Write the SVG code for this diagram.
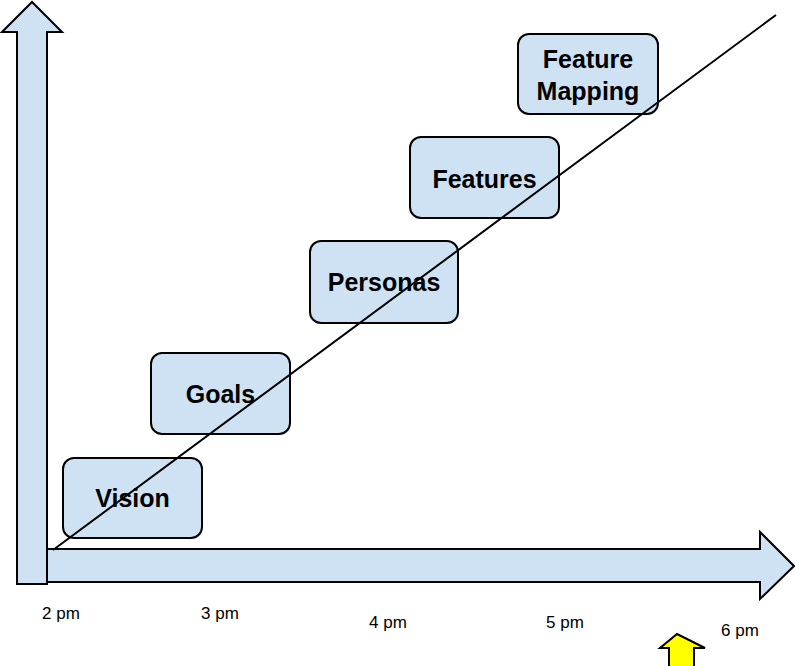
<svg xmlns="http://www.w3.org/2000/svg" width="795" height="666" viewBox="0 0 795 666">
<style>
.a{fill:#cfe2f3;stroke:#000;stroke-width:2;stroke-linejoin:miter}
.b{fill:#cfe2f3;stroke:#000;stroke-width:2}
.t{font-family:"Liberation Sans",Arial,sans-serif;font-weight:bold;font-size:25px;text-anchor:middle}
.l{font-family:"Liberation Sans",Arial,sans-serif;font-size:17px;text-anchor:middle}
</style>
<rect width="795" height="666" fill="#fff"/>
<g id="axes">
<path class="a" d="M47,549 H760 V532 L794,566 L760,599 V582 H47 Z"/>
<path class="a" d="M17,584 V32 H2 L32,2 L62,32 H47 V584 Z"/>
<path d="M669,666 V648 H660 L677,634 L705,648 H694 V666" fill="#ffff00" stroke="#000" stroke-width="2"/>
</g>
<g id="vision"><rect class="b" x="63" y="458" width="139" height="80" rx="11"/><text class="t" x="132.5" y="507">Vision</text></g>
<g id="goals"><rect class="b" x="151" y="353" width="139" height="81" rx="11"/><text class="t" x="220.5" y="403">Goals</text></g>
<g id="personas"><rect class="b" x="310" y="241" width="148" height="82" rx="11"/><text class="t" x="384" y="291">Personas</text></g>
<g id="features"><rect class="b" x="410" y="137" width="149" height="81" rx="11"/><text class="t" x="484.5" y="188">Features</text></g>
<g id="mapping"><rect class="b" x="518" y="34" width="140" height="80" rx="11"/><text class="t" x="588" y="68">Feature</text><text class="t" x="588" y="100">Mapping</text></g>
<g id="connectors"><line x1="53" y1="550" x2="776" y2="15" stroke="#000" stroke-width="2"/></g>
<g id="labels">
<text class="l" x="61" y="619">2 pm</text>
<text class="l" x="220" y="619">3 pm</text>
<text class="l" x="388" y="628">4 pm</text>
<text class="l" x="565" y="628">5 pm</text>
<text class="l" x="740" y="636">6 pm</text>
</g>
</svg>
